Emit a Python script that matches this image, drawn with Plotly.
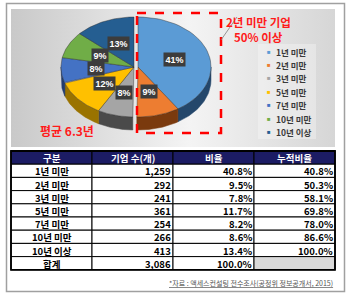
import numpy as np
import plotly.graph_objects as go

# ---------------- data ----------------
categories = ["1년 미만", "2년 미만", "3년 미만", "5년 미만", "7년 미만", "10년 미만", "10년 이상"]
companies = [1259, 292, 241, 361, 254, 266, 413]
ratio_pct = [40.8, 9.5, 7.8, 11.7, 8.2, 8.6, 13.4]
cum_pct = [40.8, 50.3, 58.1, 69.8, 78.0, 86.6, 100.0]
total_label = "합계"
total_companies = 3086
total_pct = 100.0
table_header = ["구분", "기업 수(개)", "비율", "누적비율"]
average_text = "평균 6.3년"
callout_lines = ["2년 미만 기업", "50% 이상"]
source_text = "*자료 : 액세스컨설팅 전수조사(공정위 정보공개서, 2015)"

# ---------------- styles ----------------
top_colors = ["#5b9bd5", "#ed7d31", "#a5a5a5", "#ffc000", "#4472c4", "#70ad47", "#255e91"]
side_colors = ["#24476b", "#7a3a0e", "#4a4a4a", "#9a7300", "#233d6e", "#3d6426", "#142f4a"]
explode = [True, True, False, False, False, False, False]
W, H = 350, 299
CX, CY, RX, RY, DEPTH, EXPLODE_DX = 134, 67, 73, 50, 13, 4
FONT_KR = "Noto Sans CJK KR"
TX0, TCOLW, TY0, TROWH = 11, 81, 151, 13.2

fig = go.Figure()

# background panel with gradient
fig.add_trace(go.Scatter(
    x=[11, 335, 335, 11, 11], y=[9, 9, 147, 147, 9], mode="lines",
    fill="toself", line=dict(width=0),
    fillgradient=dict(type="horizontal",
                      colorscale=[[0, "#c9c9c9"], [0.55, "#f4f4f4"], [1, "#d6d6d6"]]),
    hoverinfo="skip", showlegend=False))

# pie geometry from data
vals = np.array(companies, dtype=float)
fr = vals / vals.sum()
ends = np.cumsum(fr) * 360.0
starts = ends - fr * 360.0


def arc(a0, a1, dx=0.0, dy=0.0, n=40):
    t = np.radians(np.linspace(a0, a1, n))
    return CX + dx + RX * np.sin(t), CY + dy - RY * np.cos(t)


# side walls (visible front half: 90..270 deg)
for i in range(len(vals)):
    a0, a1 = max(starts[i], 90), min(ends[i], 270)
    if a1 <= a0:
        continue
    dx = EXPLODE_DX if explode[i] else 0
    xt, yt = arc(a0, a1, dx)
    xb, yb = arc(a1, a0, dx, DEPTH)
    fig.add_trace(go.Scatter(
        x=np.concatenate([xt, xb, xt[:1]]), y=np.concatenate([yt, yb, yt[:1]]),
        mode="lines", fill="toself", fillcolor=side_colors[i],
        line=dict(width=0.5, color=side_colors[i]), hoverinfo="skip", showlegend=False))

# top faces
for i in range(len(vals)):
    dx = EXPLODE_DX if explode[i] else 0
    xa, ya = arc(starts[i], ends[i], dx)
    fig.add_trace(go.Scatter(
        x=np.concatenate([[CX + dx], xa, [CX + dx]]),
        y=np.concatenate([[CY], ya, [CY]]),
        mode="lines", fill="toself", fillcolor=top_colors[i],
        line=dict(width=0.7, color="rgba(40,40,40,0.6)"), hoverinfo="skip", showlegend=False))

annotations = []
# slice labels
for i in range(len(vals)):
    dx = EXPLODE_DX if explode[i] else 0
    m = np.radians((starts[i] + ends[i]) / 2)
    lx = CX + dx + 0.52 * RX * np.sin(m)
    ly = CY - 0.52 * RY * np.cos(m)
    annotations.append(dict(
        x=lx, y=ly, xref="x", yref="y", text=f"<b>{round(fr[i] * 100):.0f}%</b>",
        showarrow=False, bgcolor="#3c3c3c", borderpad=1.5,
        font=dict(family="Liberation Sans", size=9, color="white")))

# average text
annotations.append(dict(x=67, y=130, xref="x", yref="y", text=f"<b>{average_text}</b>",
                        showarrow=False, font=dict(family=FONT_KR, size=12, color="#ff1a1a")))
# callout
for j, line in enumerate(callout_lines):
    annotations.append(dict(x=258, y=22 + j * 15, xref="x", yref="y", text=f"<b>{line}</b>",
                            showarrow=False, font=dict(family=FONT_KR, size=11.5, color="#ff1a1a")))

# legend
for i, c in enumerate(categories):
    yy = 51.5 + i * 13.4
    annotations.append(dict(x=269, y=yy, xref="x", yref="y", text="■", showarrow=False,
                            font=dict(size=6, color=top_colors[i])))
    annotations.append(dict(x=274, y=yy, xref="x", yref="y", text=f"<b>{c}</b>", showarrow=False,
                            xanchor="left",
                            font=dict(family=FONT_KR, size=8.5, color="#3a3a3a")))

shapes = [
    dict(type="rect", x0=6.5, y0=3.5, x1=344.5, y1=291.5, xref="x", yref="y",
         line=dict(color="#a0a0a0", width=1.5), layer="below"),
    dict(type="rect", x0=258, y0=44, x1=316, y1=139, xref="x", yref="y",
         line=dict(width=0), fillcolor="rgba(255,255,255,0.3)", layer="above"),
    dict(type="rect", x0=137, y0=13, x1=221, y1=133, xref="x", yref="y",
         line=dict(color="#ff0000", width=2.5, dash="dash"), layer="above"),
    dict(type="line", x0=221, y0=40, x1=237, y1=17, xref="x", yref="y",
         line=dict(color="#7f7f7f", width=0.8), layer="above"),
]

# table (cells laid out by row / column index)
col1 = categories + [total_label]
col2 = [f"{v:,}" for v in companies] + [f"{total_companies:,}"]
col3 = [f"{p:.1f}%" for p in ratio_pct] + [f"{total_pct:.1f}%"]
col4 = [f"{p:.1f}%" for p in cum_pct] + [""]
columns = [col1, col2, col3, col4]
nrows = len(col1)
for c, h in enumerate(table_header):
    x0 = TX0 + c * TCOLW
    shapes.append(dict(type="rect", x0=x0, x1=x0 + TCOLW, y0=TY0, y1=TY0 + TROWH,
                       xref="x", yref="y", fillcolor="#1c1c64",
                       line=dict(color="black", width=1), layer="above"))
    annotations.append(dict(x=x0 + TCOLW / 2, y=TY0 + TROWH / 2 + 0.5, xref="x", yref="y",
                            text=f"<b>{h}</b>", showarrow=False, borderpad=0,
                            font=dict(family=FONT_KR, size=9.5, color="white")))
for r in range(nrows):
    y0 = TY0 + (r + 1) * TROWH
    for c, col in enumerate(columns):
        x0 = TX0 + c * TCOLW
        fill = "#d9d9d9" if (r == nrows - 1 and c == 3) else "white"
        shapes.append(dict(type="rect", x0=x0, x1=x0 + TCOLW, y0=y0, y1=y0 + TROWH,
                           xref="x", yref="y", fillcolor=fill,
                           line=dict(color="black", width=1), layer="above"))
        if not col[r]:
            continue
        if c == 0:
            ax, anc = x0 + TCOLW / 2, "center"
        else:
            ax, anc = x0 + TCOLW - 1.5, "right"
        annotations.append(dict(x=ax, y=y0 + TROWH / 2 + 0.5, xref="x", yref="y",
                                text=f"<b>{col[r]}</b>", showarrow=False, borderpad=0,
                                xanchor=anc,
                                font=dict(family=FONT_KR, size=9.5, color="black")))
# thick outer border of table
shapes.append(dict(type="rect", x0=TX0, x1=TX0 + 4 * TCOLW, y0=TY0,
                   y1=TY0 + (nrows + 1) * TROWH, xref="x", yref="y",
                   line=dict(color="black", width=1.8), layer="above"))

# source note
annotations.append(dict(x=335, y=TY0 + (nrows + 1) * TROWH + 13, xref="x", yref="y",
                        text=f"<u>{source_text}</u>",
                        showarrow=False, xanchor="right",
                        font=dict(family=FONT_KR, size=7, color="#555555")))

fig.update_layout(
    width=W, height=H, margin=dict(l=0, r=0, t=0, b=0),
    paper_bgcolor="white", plot_bgcolor="white",
    xaxis=dict(range=[0, W], visible=False, fixedrange=True),
    yaxis=dict(range=[H, 0], visible=False, fixedrange=True),
    annotations=annotations, shapes=shapes, showlegend=False,
)
fig.write_html("out.html")
